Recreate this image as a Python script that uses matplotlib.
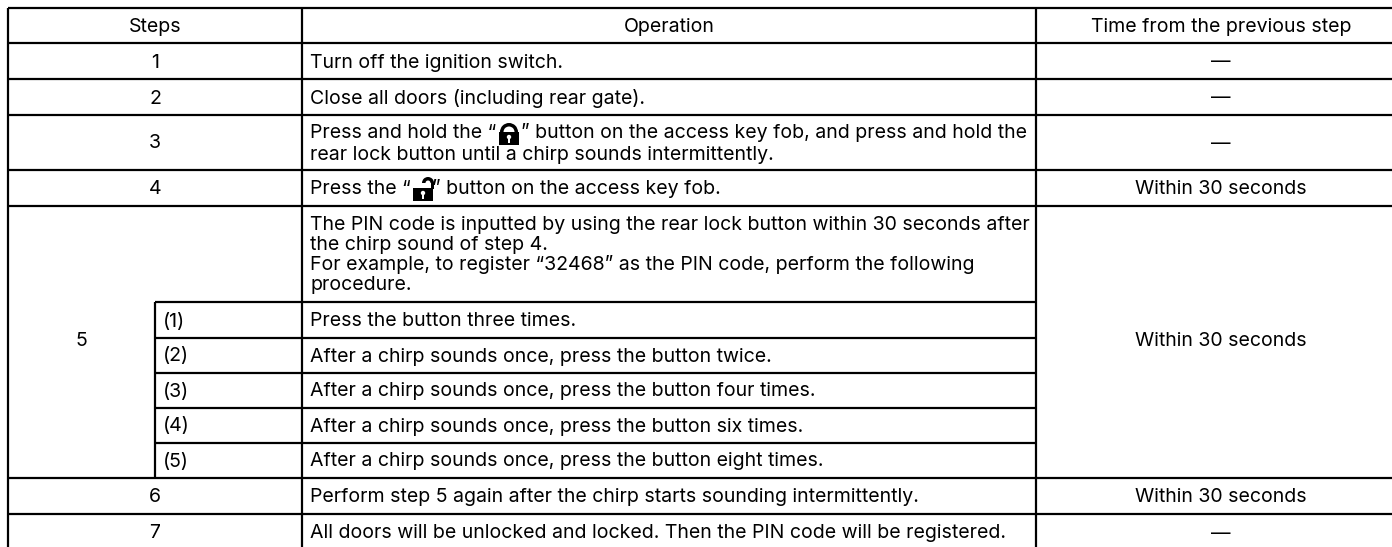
import matplotlib
matplotlib.use("Agg")
import matplotlib.pyplot as plt
from matplotlib.patches import Rectangle, Wedge, Circle

W, H = 1392, 547

steps = ["1", "2", "3", "4", "5", "6", "7"]
sub_steps = ["(1)", "(2)", "(3)", "(4)", "(5)"]
headers = ["Steps", "Operation", "Time from the previous step"]
operations = [
    "Turn off the ignition switch.",
    "Close all doors (including rear gate).",
    "rear lock button until a chirp sounds intermittently.",
    "",
    "The PIN code is inputted by using the rear lock button within 30 seconds after\nthe chirp sound of step 4.\nFor example, to register “32468” as the PIN code, perform the following\nprocedure.",
    "Perform step 5 again after the chirp starts sounding intermittently.",
    "All doors will be unlocked and locked. Then the PIN code will be registered.",
]
row3_left = "Press and hold the “"
row3_right = "” button on the access key fob, and press and hold the"
row4_left = "Press the “"
row4_right = "” button on the access key fob."
sub_operations = [
    "Press the button three times.",
    "After a chirp sounds once, press the button twice.",
    "After a chirp sounds once, press the button four times.",
    "After a chirp sounds once, press the button six times.",
    "After a chirp sounds once, press the button eight times.",
]
times = ["—", "—", "—", "Within 30 seconds", "Within 30 seconds", "Within 30 seconds", "—"]

# lines of the table, in pixels of the page
full_y = [8, 43, 79, 115, 170, 206, 478, 514]
op_y = [302]
sub_y = [338, 373, 408, 443]
x_left, x_sub, x_steps, x_op = 8, 155, 302, 1036

# text centre of each row
row_c = [61, 97, 142, 188, 339, 496, 532]
sub_c = [320, 355, 390, 425, 460]

plt.rcParams["font.family"] = ["Inter", "Liberation Sans", "DejaVu Sans"]
fig = plt.figure(figsize=(W / 100, H / 100), dpi=100)
ax = fig.add_axes([0, 0, 1, 1])
ax.set_xlim(0, W)
ax.set_ylim(H, 0)
ax.axis("off")

lw = 1.6
fs = 14.05
base = 6.5


def hline(y, x0, x1):
    ax.plot([x0, x1], [y, y], color="black", lw=lw, solid_capstyle="butt")


def vline(x, y0, y1):
    ax.plot([x, x], [y0, y1], color="black", lw=lw, solid_capstyle="butt")


def put(x, y, t, ha="left"):
    ax.text(x, y, t, ha=ha, va="baseline", fontsize=fs, color="black", linespacing=1.12)


def keyhole(x, y):
    ax.add_patch(Circle((x, y), 2.2, color="white", lw=0))
    ax.add_patch(Rectangle((x - 1, y), 2, 5.5, color="white", lw=0))


def lock_closed(x, y):
    ax.add_patch(Wedge((x, y - 1), 9, 180, 360, width=3.5, color="black", lw=0))
    ax.add_patch(Rectangle((x - 10, y - 1), 20, 13, color="black", lw=0))
    keyhole(x, y + 4)


def lock_open(x, y):
    ax.add_patch(Wedge((x + 5, y - 5), 6, 180, 360, width=3.5, color="black", lw=0))
    ax.add_patch(Rectangle((x + 7.5, y - 5), 3.5, 6, color="black", lw=0))
    ax.add_patch(Rectangle((x - 10, y), 20, 13, color="black", lw=0))
    keyhole(x, y + 5)


# grid
for y in full_y:
    hline(y, x_left, W)
for y in op_y:
    hline(y, x_sub, x_op)
for y in sub_y:
    hline(y, x_sub, x_op)
vline(x_left, full_y[0], H)
vline(x_steps, full_y[0], H)
vline(x_op, full_y[0], H)
vline(x_sub, op_y[0], full_y[6])

# header, the right column runs past the edge of the page
xc = [(x_left + x_steps) / 2, (x_steps + x_op) / 2, 1221]
for x, t in zip(xc, headers):
    put(x, 26 + base, t, ha="center")

# main rows
for i in range(len(steps)):
    x = xc[0]
    if steps[i] == "5":
        x = (x_left + x_sub) / 2
    put(x, row_c[i] + base, steps[i], ha="center")
    put(xc[2], row_c[i] + base, times[i], ha="center")

put(x_steps + 8, row_c[0] + base, operations[0])
put(x_steps + 8, row_c[1] + base, operations[1])
put(x_steps + 8, 138, row3_left)
put(521, 138, row3_right)
put(x_steps + 8, 160, operations[2])
put(x_steps + 8, 194, row4_left)
put(432, 194, row4_right)
put(x_steps + 8, 290, operations[4])
put(x_steps + 8, row_c[5] + base, operations[5])
put(x_steps + 8, row_c[6] + base, operations[6])

# sub rows of step 5
for i in range(len(sub_steps)):
    put(x_sub + 8, sub_c[i] + base, sub_steps[i])
    put(x_steps + 8, sub_c[i] + base, sub_operations[i])

lock_closed(509, 133)
lock_open(423, 188)

fig.savefig("out.png", dpi=100)
